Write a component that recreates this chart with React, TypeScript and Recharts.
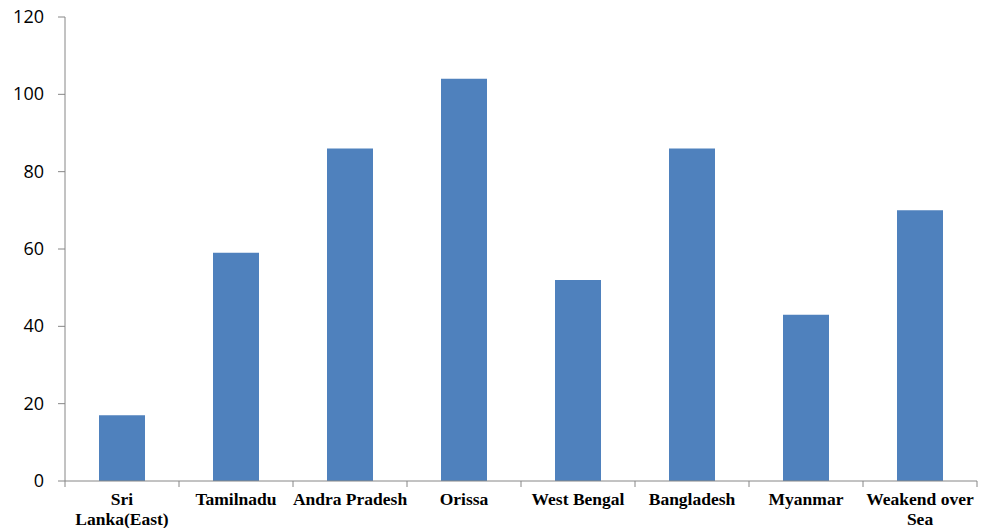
import React from "react";
import { BarChart, Bar, XAxis, YAxis } from "recharts";

const regions = [
  "Sri Lanka(East)",
  "Tamilnadu",
  "Andra Pradesh",
  "Orissa",
  "West Bengal",
  "Bangladesh",
  "Myanmar",
  "Weakend over Sea",
];
const counts = [17, 59, 86, 104, 52, 86, 43, 70];
const yTicks = [0, 20, 40, 60, 80, 100, 120];

const data = regions.map((region, i) => ({ region, count: counts[i] }));

const W = 984;
const H = 528;
const MARGIN = { top: 17, right: 7, bottom: 0, left: 0 };
const Y_AXIS_W = 65;
const X_AXIS_H = 47;
const STEP = (W - MARGIN.right - Y_AXIS_W) / regions.length;
const AXIS_GREY = "#868686";

// greedy word wrap, roughly what fits in one category slot
const wrap = (label: string, maxChars = 14) => {
  const lines: string[] = [];
  let cur = "";
  for (const word of label.split(" ")) {
    const next = cur ? cur + " " + word : word;
    if (next.length > maxChars && cur) {
      lines.push(cur);
      cur = word;
    } else {
      cur = next;
    }
  }
  if (cur) lines.push(cur);
  return lines;
};

// category label plus tick marks on the slot boundaries
const RegionTick = (props: any) => {
  const { x, payload, index } = props;
  const axisY = H - X_AXIS_H;
  const left = x - STEP / 2;
  const lines = wrap(payload.value);
  return (
    <g>
      <line x1={left} y1={axisY} x2={left} y2={axisY + 6} stroke={AXIS_GREY} />
      {index === regions.length - 1 && (
        <line x1={x + STEP / 2} y1={axisY} x2={x + STEP / 2} y2={axisY + 6} stroke={AXIS_GREY} />
      )}
      <text
        x={x}
        y={axisY + 24}
        textAnchor="middle"
        fontFamily="'Liberation Serif', 'Times New Roman', serif"
        fontWeight="bold"
        fontSize={17.5}
        fill="#000"
      >
        {lines.map((line, i) => (
          <tspan key={i} x={x} dy={i === 0 ? 0 : 20}>
            {line}
          </tspan>
        ))}
      </text>
    </g>
  );
};

const CountTick = (props: any) => {
  const { x, y, payload } = props;
  return (
    <text
      x={x}
      y={y}
      dy={6}
      textAnchor="end"
      fontFamily="'Open Sans', sans-serif"
      fontSize={18}
      fill="#000"
    >
      {payload.value}
    </text>
  );
};

export default function App() {
  return (
    <div style={{ position: "absolute", left: 0, top: 0, background: "#fff" }}>
      <BarChart width={W} height={H} data={data} margin={MARGIN}>
        <XAxis
          dataKey="region"
          height={X_AXIS_H}
          stroke={AXIS_GREY}
          tickLine={false}
          interval={0}
          tick={<RegionTick />}
        />
        <YAxis
          width={Y_AXIS_W}
          domain={[0, 120]}
          ticks={yTicks}
          stroke={AXIS_GREY}
          tickSize={7}
          tickMargin={14}
          tick={<CountTick />}
        />
        <Bar dataKey="count" fill="#4f81bd" barSize={46} isAnimationActive={false} />
      </BarChart>
    </div>
  );
}
